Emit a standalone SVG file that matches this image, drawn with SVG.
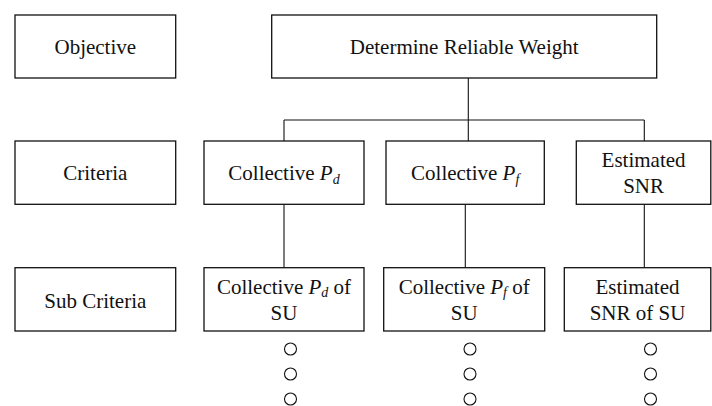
<svg xmlns="http://www.w3.org/2000/svg" width="712" height="406" viewBox="0 0 712 406">
<style>
.box{fill:#fff;stroke:#111;stroke-width:1.3}
.t{font-family:'Liberation Serif','Tinos','Times New Roman','DejaVu Serif',serif;font-size:21px;fill:#111;text-anchor:middle}
.i{font-style:italic}
.s{font-style:italic;font-size:14px}
.ln{stroke:#111;stroke-width:1.1;fill:none}
.dot{fill:none;stroke:#111;stroke-width:1.1}
</style>
<rect width="712" height="406" fill="#fff"/>
<g id="connectors">
<line class="ln" x1="468.3" y1="78" x2="468.3" y2="141"/>
<line class="ln" x1="284" y1="120" x2="644.3" y2="120"/>
<line class="ln" x1="284" y1="120" x2="284" y2="141"/>
<line class="ln" x1="644.3" y1="120" x2="644.3" y2="141"/>
<line class="ln" x1="284" y1="204.3" x2="284" y2="267.7"/>
<line class="ln" x1="465.3" y1="204.3" x2="465.3" y2="267.7"/>
<line class="ln" x1="644.3" y1="204.3" x2="644.3" y2="267.7"/>
</g>
<g id="objective">
<rect class="box" x="15" y="15" width="160.7" height="63"/>
<text class="t" x="95.3" y="53.5" font-family="Liberation Serif, serif">Objective</text>
</g>
<g id="goal">
<rect class="box" x="271.7" y="15" width="385" height="63"/>
<text class="t" x="464.2" y="53.5">Determine Reliable Weight</text>
</g>
<g id="criteria">
<rect class="box" x="15" y="141" width="160.7" height="63.3"/>
<text class="t" x="95.3" y="180">Criteria</text>
</g>
<g id="c-pd">
<rect class="box" x="204" y="141" width="160" height="63.3"/>
<text class="t" x="284" y="180">Collective <tspan class="i">P</tspan><tspan class="s" dy="3.5">d</tspan></text>
</g>
<g id="c-pf">
<rect class="box" x="386" y="141" width="158.3" height="63.3"/>
<text class="t" x="465.2" y="180">Collective <tspan class="i">P</tspan><tspan class="s" dy="3.5">f</tspan></text>
</g>
<g id="c-snr">
<rect class="box" x="576.3" y="141" width="134.5" height="63.3"/>
<text class="t" x="643.6" y="166.7">Estimated</text>
<text class="t" x="643.6" y="193.3">SNR</text>
</g>
<g id="subcriteria">
<rect class="box" x="15" y="267.7" width="160.7" height="63.3"/>
<text class="t" x="95.3" y="307.5">Sub Criteria</text>
</g>
<g id="s-pd">
<rect class="box" x="204" y="267.7" width="160" height="63.3"/>
<text class="t" x="284" y="293.5">Collective <tspan class="i">P</tspan><tspan class="s" dy="3.5">d</tspan><tspan dy="-3.5"> of</tspan></text>
<text class="t" x="284" y="320.3">SU</text>
</g>
<g id="s-pf">
<rect class="box" x="383.7" y="267.7" width="161" height="63.3"/>
<text class="t" x="464.2" y="293.5">Collective <tspan class="i">P</tspan><tspan class="s" dy="3.5">f</tspan><tspan dy="-3.5"> of</tspan></text>
<text class="t" x="464.2" y="320.3">SU</text>
</g>
<g id="s-snr">
<rect class="box" x="564.3" y="267.7" width="146.5" height="63.3"/>
<text class="t" x="637.5" y="293.5">Estimated</text>
<text class="t" x="637.5" y="320.3">SNR of SU</text>
</g>
<g id="ellipsis">
<circle class="dot" cx="290.5" cy="349" r="6"/>
<circle class="dot" cx="290.5" cy="374" r="6"/>
<circle class="dot" cx="290.5" cy="399" r="6"/>
<circle class="dot" cx="470" cy="349" r="6"/>
<circle class="dot" cx="470" cy="374" r="6"/>
<circle class="dot" cx="470" cy="399" r="6"/>
<circle class="dot" cx="650.5" cy="349" r="6"/>
<circle class="dot" cx="650.5" cy="374" r="6"/>
<circle class="dot" cx="650.5" cy="399" r="6"/>
</g>
</svg>
